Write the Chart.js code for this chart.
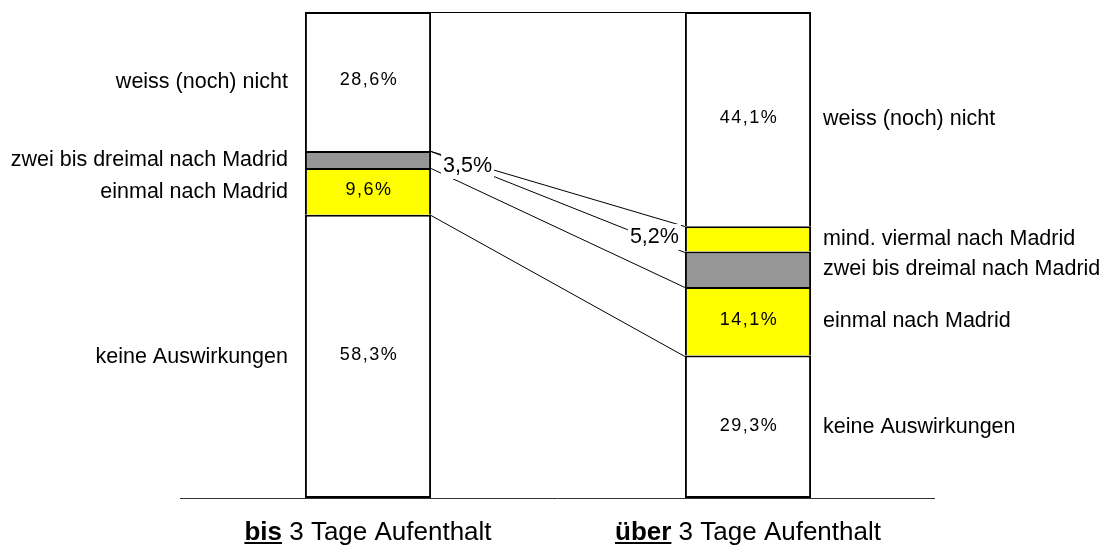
<!DOCTYPE html>
<html>
<head>
<meta charset="utf-8">
<script src="https://cdn.jsdelivr.net/npm/chart.js@4.4.1/dist/chart.umd.min.js"></script>
<style>
  html, body { margin: 0; background: #fff; }
</style>
</head>
<body>
<canvas id="chart" width="1101" height="547"></canvas>
<script>
// categories (bold part + rest of the axis label)
const stayBold = ["bis", "über"];
const stayRest = " 3 Tage Aufenthalt";

// segments from bottom to top
const segments = ["keine Auswirkungen", "einmal nach Madrid", "zwei bis dreimal nach Madrid", "mind. viermal nach Madrid", "weiss (noch) nicht"];
const shortStay = [58.3, 9.6, 3.5, null, 28.6];
const longStay = [29.3, 14.1, 7.3, 5.2, 44.1];
const shortLabels = ["58,3%", "9,6%", "3,5%", "", "28,6%"];
const longLabels = ["29,3%", "14,1%", "", "5,2%", "44,1%"];
const segColors = ["#ffffff", "#ffff00", "#969696", "#ffff00", "#ffffff"];

const FONT = '"Liberation Sans", Arial, sans-serif';

const madridPlugin = {
  id: "madrid",
  afterDatasetsDraw(chart) {
    const ctx = chart.ctx;
    const y = chart.scales.y;
    const area = chart.chartArea;
    const bar0 = chart.getDatasetMeta(0).data[0];
    const bar1 = chart.getDatasetMeta(0).data[1];
    const x0r = bar0.x + bar0.width / 2;
    const x0l = bar0.x - bar0.width / 2;
    const x1l = bar1.x - bar1.width / 2;
    const x1r = bar1.x + bar1.width / 2;

    ctx.save();

    // baseline
    ctx.strokeStyle = "#333";
    ctx.lineWidth = 1;
    ctx.beginPath();
    ctx.moveTo(area.left + 2, area.bottom + 0.5);
    ctx.lineTo(area.right - 3, area.bottom + 0.5);
    ctx.stroke();

    // series lines between the bars
    let c0 = 0, c1 = 0;
    const mid0 = [], mid1 = [];
    ctx.strokeStyle = "#000";
    segments.forEach((s, i) => {
      mid0.push(y.getPixelForValue(c0 + (shortStay[i] || 0) / 2));
      mid1.push(y.getPixelForValue(c1 + (longStay[i] || 0) / 2));
      c0 += shortStay[i] || 0;
      c1 += longStay[i] || 0;
      ctx.beginPath();
      ctx.moveTo(x0r, Math.round(y.getPixelForValue(c0)) + 0.5);
      ctx.lineTo(x1l, Math.round(y.getPixelForValue(c1)) + 0.5);
      ctx.stroke();
    });

    // segment names
    ctx.fillStyle = "#000";
    ctx.font = "21.5px " + FONT;
    ctx.textBaseline = "middle";
    ctx.textAlign = "right";
    segments.forEach((s, i) => {
      if (shortStay[i]) ctx.fillText(s, x0l - 17, mid0[i] + 1);
    });
    ctx.textAlign = "left";
    segments.forEach((s, i) => {
      if (longStay[i]) ctx.fillText(s, x1r + 12, mid1[i]);
    });

    // values inside the bars
    ctx.font = "18px " + FONT;
    ctx.letterSpacing = "1.5px";
    ctx.textAlign = "center";
    shortLabels.forEach((t, i) => {
      if (t && i !== 2) ctx.fillText(t, bar0.x + 1, mid0[i] - 1);
    });
    longLabels.forEach((t, i) => {
      if (t && i !== 3) ctx.fillText(t, bar1.x + 1, mid1[i] - 1);
    });
    ctx.letterSpacing = "0px";

    // small values outside, on a white box over the lines
    ctx.font = "21.5px " + FONT;
    const boxed = (t, cx, cy) => {
      const w = ctx.measureText(t).width;
      ctx.fillStyle = "#fff";
      ctx.fillRect(cx - w / 2 - 2, cy - 13, w + 4, 26);
      ctx.fillStyle = "#000";
      ctx.fillText(t, cx, cy);
    };
    boxed(shortLabels[2], x0r + 36.5, mid0[2] + 6.5);
    boxed(longLabels[3], x1l - 30.5, mid1[3] - 2);

    // axis labels with bold underlined first word
    ctx.textAlign = "left";
    ctx.textBaseline = "alphabetic";
    [bar0, bar1].forEach((bar, j) => {
      ctx.font = "bold 26px " + FONT;
      const wb = ctx.measureText(stayBold[j]).width;
      ctx.font = "26px " + FONT;
      const wr = ctx.measureText(stayRest).width;
      const start = bar.x - (wb + wr) / 2;
      ctx.font = "bold 26px " + FONT;
      ctx.fillText(stayBold[j], start, 540);
      ctx.fillRect(start, 542, wb, 2);
      ctx.font = "26px " + FONT;
      ctx.fillText(stayRest, start + wb, 540);
    });

    ctx.restore();
  }
};

new Chart(document.getElementById("chart"), {
  type: "bar",
  data: {
    labels: stayBold,
    datasets: segments.map((s, i) => ({
      label: s,
      data: [shortStay[i], longStay[i]],
      backgroundColor: segColors[i],
      borderColor: "#000",
      borderWidth: 2,
      borderSkipped: i === 0 ? false : "start",
      barPercentage: 0.332,
      categoryPercentage: 1
    }))
  },
  options: {
    responsive: false,
    animation: false,
    layout: { padding: { left: 178, right: 163, top: 12, bottom: 49 } },
    plugins: { legend: { display: false }, tooltip: { enabled: false } },
    scales: {
      x: { stacked: true, display: false },
      y: { stacked: true, display: false, min: 0, max: 100 }
    }
  },
  plugins: [madridPlugin]
});
</script>
</body>
</html>
